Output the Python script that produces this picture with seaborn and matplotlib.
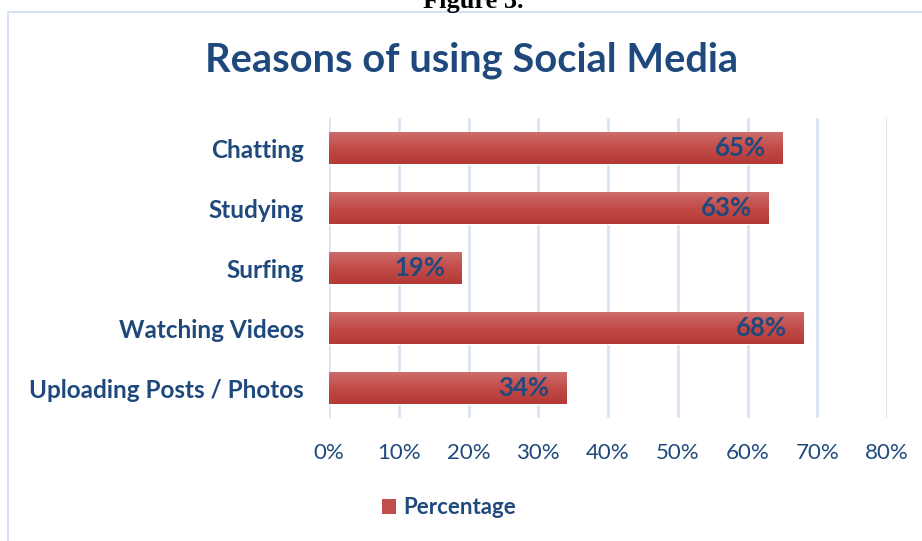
import numpy as np
import pandas as pd
import matplotlib
matplotlib.use("Agg")
import matplotlib.pyplot as plt
from matplotlib.colors import LinearSegmentedColormap
from matplotlib.patches import Rectangle, Patch
import seaborn as sns

# Survey results: reasons for using social media
categories = ["Chatting", "Studying", "Surfing", "Watching Videos", "Uploading Posts / Photos"]
percentages = [65, 63, 19, 68, 34]
tick_values = [0, 10, 20, 30, 40, 50, 60, 70, 80]
tick_labels = [f"{v}%" for v in tick_values]

BLUE = "#1F497D"
BAR = "#C0504D"
GRID = "#D9E4F2"
FONT = "Lato"

sns.set_theme(style="white")
plt.rcParams["font.family"] = [FONT, "DejaVu Sans"]

W, H = 922, 541
fig = plt.figure(figsize=(W / 100, H / 100), dpi=100)
fig.patch.set_facecolor("white")

# outer chart frame (runs off the right and bottom edges)
fig.patches.append(Rectangle((8 / W, -0.1), 1.2, (H - 12) / H + 0.1,
                             transform=fig.transFigure, fill=False,
                             edgecolor="#D3E1F1", linewidth=1.5))

# caption above the frame, partly cropped at the top
fig.text(473 / W, 1 - 8 / H, "Figure 3.", ha="center", va="baseline",
         fontsize=19, fontweight="bold", family="Liberation Serif", color="black")

left, right, top, bottom = 329, 887, 118, 418
ax = fig.add_axes([left / W, 1 - bottom / H, (right - left) / W, (bottom - top) / H])

df = pd.DataFrame({"Reason": categories, "Percentage": percentages})
sns.barplot(data=df, x="Percentage", y="Reason", orient="h", color=BAR,
            width=0.52, ax=ax, saturation=1)

# vertical gradient on each bar
cmap = LinearSegmentedColormap.from_list("bar", ["#CC6D6A", "#C24B48", "#B33936"])
grad = np.linspace(0, 1, 64).reshape(-1, 1)
for p in ax.patches:
    x0, y0, w, h = p.get_x(), p.get_y(), p.get_width(), p.get_height()
    ax.imshow(grad, cmap=cmap, aspect="auto", extent=(x0, x0 + w, y0 + h, y0),
              origin="upper", zorder=p.get_zorder() + 0.1, interpolation="bicubic")
ax.set_xlim(0, 80)
ax.set_ylim(len(categories) - 0.5, -0.5)

# value labels inside the bar ends
for p, v in zip(ax.patches, percentages):
    ax.annotate(f"{v}%", (p.get_x() + p.get_width(), p.get_y() + p.get_height() / 2),
                xytext=(-12, 0), textcoords="offset points", ha="right", va="center",
                fontsize=18.5, fontweight="bold", color=BLUE, zorder=5)

ax.set_xticks(tick_values)
ax.set_xticklabels(tick_labels)
ax.grid(axis="x", color=GRID, linewidth=2)
ax.grid(axis="y", visible=False)
ax.set_axisbelow(True)
for s in ax.spines.values():
    s.set_visible(False)
ax.tick_params(axis="x", length=0, pad=18, labelsize=16, labelcolor=BLUE)
ax.tick_params(axis="y", length=0, pad=18, labelsize=17.5, labelcolor=BLUE)
for t in ax.get_yticklabels():
    t.set_fontweight("bold")
ax.set_xlabel("")
ax.set_ylabel("")

fig.text(472 / W, 1 - 60 / H, "Reasons of using Social Media", ha="center", va="center",
         fontsize=28.7, fontweight="bold", color=BLUE)

leg = fig.legend(handles=[Patch(facecolor=BAR, edgecolor="none")], labels=["Percentage"],
                 loc="center", bbox_to_anchor=(449 / W, 1 - 508 / H), frameon=False,
                 handlelength=0.65, handleheight=0.65, handletextpad=0.35,
                 prop={"family": FONT, "weight": "bold", "size": 16})
for t in leg.get_texts():
    t.set_color(BLUE)

fig.savefig("out.png", dpi=100)
